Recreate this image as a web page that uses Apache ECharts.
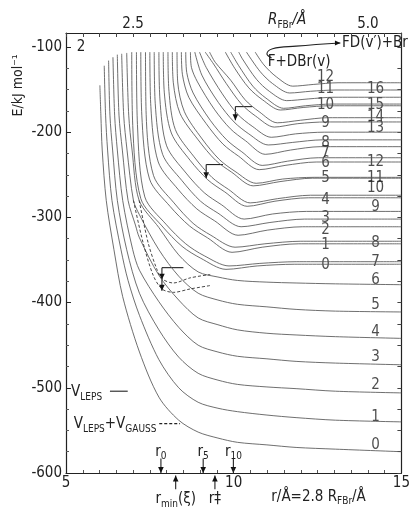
<!DOCTYPE html>
<html><head><meta charset="utf-8">
<script src="https://cdn.jsdelivr.net/npm/echarts@6/dist/echarts.min.js"></script>
<style>html,body{margin:0;padding:0;background:#fff}#c{width:413px;height:509px}</style>
</head><body><div id="c"></div>
<script>
// ---- adiabatic curves [r/Å, E/kJ mol-1] (V_LEPS) ----
const FD0 = [[6.01,-145],[6.04,-180],[6.08,-221],[6.20,-280],[6.43,-338],[6.69,-393],[7.19,-458],[7.77,-511],[8.36,-538],[8.94,-552],[9.53,-559],[10.11,-564],[10.99,-567],[11.86,-570],[13.03,-572],[15,-575]];
const FD1 = [[6.14,-122],[6.18,-180],[6.24,-221],[6.37,-280],[6.64,-338],[6.85,-374],[7.19,-415],[7.77,-467],[8.36,-500],[8.94,-517],[9.53,-524],[10.11,-528],[10.99,-532],[11.86,-535],[13.03,-538],[15,-540]];
const FD2 = [[6.27,-116],[6.31,-180],[6.39,-221],[6.53,-280],[6.81,-338],[7.19,-389],[7.77,-432],[8.36,-464],[8.94,-483],[9.53,-491],[10.11,-496],[10.99,-499],[11.86,-501],[13.03,-504],[15,-506]];
const FD3 = [[6.40,-112],[6.45,-180],[6.53,-221],[6.69,-280],[6.99,-338],[7.19,-362],[7.77,-399],[8.36,-429],[8.94,-450],[9.53,-458],[10.11,-463],[10.99,-466],[11.86,-469],[13.03,-471],[15,-473]];
const FD4 = [[6.53,-109],[6.58,-180],[6.68,-221],[6.85,-280],[7.07,-309],[7.19,-324],[7.77,-368],[8.36,-397],[8.94,-418],[9.53,-426],[10.11,-432],[10.99,-436],[11.86,-438],[13.03,-440],[15,-442]];
const FD5 = [[6.66,-108],[6.72,-180],[6.82,-221],[7.01,-280],[7.19,-297],[7.77,-338],[8.36,-369],[8.94,-389],[9.53,-397],[10.11,-402],[10.99,-405],[11.86,-408],[13.03,-410],[15,-411]];
const FD6 = [[6.81,-107],[6.87,-180],[6.97,-221],[7.18,-280],[7.77,-312],[8.36,-344],[8.94,-364],[9.53,-370],[10.11,-374],[10.99,-376],[11.86,-377],[13.03,-378],[15,-379]];
const FD7 = [[6.96,-106],[6.99,-192],[7.23,-278],[7.86,-310],[8.46,-334],[9.02,-348],[9.77,-361],[10.70,-357],[11.82,-355],[15,-355]];
const DBr0 = [[7.10,-106],[7.13,-191],[7.35,-276],[7.98,-308],[8.57,-331],[9.12,-345],[9.86,-357],[10.78,-354],[11.88,-352],[15,-352]];
const DBr1 = [[7.23,-106],[7.26,-180],[7.49,-255],[8.10,-287],[8.68,-310],[9.22,-324],[9.95,-341],[10.85,-335],[11.94,-331],[15,-331]];
const FD8 = [[7.37,-106],[7.39,-179],[7.61,-251],[8.22,-283],[8.79,-307],[9.32,-321],[10.04,-335],[10.93,-331],[12.00,-328],[15,-328]];
const DBr2 = [[7.50,-106],[7.53,-170],[7.75,-235],[8.34,-267],[8.90,-290],[9.43,-304],[10.13,-321],[11.00,-315],[12.05,-311],[15,-311]];
const FD9 = [[7.63,-106],[7.66,-166],[7.88,-226],[8.46,-257],[9.01,-281],[9.53,-295],[10.22,-311],[11.08,-306],[12.11,-302],[15,-302]];
const DBr3 = [[7.77,-106],[7.80,-161],[8.00,-216],[8.58,-248],[9.12,-271],[9.63,-285],[10.31,-302],[11.16,-296],[12.17,-293],[15,-293]];
const FD10 = [[7.90,-106],[7.93,-153],[8.14,-201],[8.70,-233],[9.23,-256],[9.73,-270],[10.40,-287],[11.23,-281],[12.23,-277],[15,-277]];
const DBr4 = [[8.04,-106],[8.07,-152],[8.26,-197],[8.82,-229],[9.35,-253],[9.84,-267],[10.49,-283],[11.31,-278],[12.29,-274],[15,-274]];
const DBr5 = [[8.17,-106],[8.20,-142],[8.40,-178],[8.94,-209],[9.46,-233],[9.94,-247],[10.58,-263],[11.38,-258],[12.35,-254],[15,-254]];
const FD11 = [[8.31,-106],[8.33,-141],[8.53,-176],[9.06,-208],[9.57,-232],[10.04,-246],[10.67,-260],[11.46,-255],[12.40,-253],[15,-253]];
const DBr6 = [[8.44,-106],[8.47,-132],[8.66,-159],[9.18,-190],[9.68,-214],[10.14,-228],[10.76,-244],[11.53,-239],[12.46,-235],[15,-235]];
const FD12 = [[8.57,-106],[8.60,-130],[8.79,-154],[9.30,-186],[9.79,-209],[10.24,-223],[10.85,-239],[11.61,-234],[12.52,-230],[15,-230]];
const DBr7 = [[8.71,-106],[8.74,-124],[8.92,-141],[9.42,-173],[9.90,-196],[10.35,-210],[10.94,-226],[11.69,-221],[12.58,-217],[15,-217]];
const FD13 = [[8.84,-106],[9.05,-133],[9.54,-165],[10.01,-188],[10.45,-202],[11.03,-215],[11.76,-212],[12.64,-209],[15,-209]];
const DBr8 = [[8.98,-106],[9.18,-124],[9.66,-155],[10.12,-179],[10.55,-193],[11.12,-206],[11.84,-202],[12.70,-200],[15,-200]];
const FD14 = [[9.15,-106],[9.40,-120],[9.78,-143],[10.23,-167],[10.65,-181],[11.21,-194],[11.91,-190],[12.76,-188],[15,-188]];
const DBr9 = [[9.28,-106],[9.45,-118],[9.91,-139],[10.34,-162],[10.76,-176],[11.30,-189],[11.99,-186],[12.81,-183],[15,-183]];
const FD15 = [[9.75,-106],[10.03,-125],[10.45,-148],[10.86,-162],[11.39,-174],[12.07,-171],[12.87,-169],[15,-169]];
const DBr10 = [[9.91,-106],[10.15,-122],[10.57,-146],[10.96,-160],[11.49,-172],[12.14,-169],[12.93,-167],[15,-167]];
const DBr11 = [[10.15,-106],[10.26,-114],[10.68,-138],[11.06,-152],[11.58,-163],[12.22,-161],[12.99,-159],[15,-159]];
const FD16 = [[10.38,-106],[10.79,-129],[11.16,-143],[11.67,-154],[12.29,-152],[13.05,-150.5],[15,-150.5]];
const DBr12 = [[10.64,-106],[10.90,-121],[11.27,-135],[11.76,-146],[12.37,-144],[13.11,-142],[15,-142]];
// ---- V_LEPS + V_GAUSS (dashed) ----
const dashA = [[7.01,-280],[7.30,-330],[7.60,-368],[7.86,-384],[8.20,-388],[8.70,-384],[9.30,-380]];
const dashB = [[7.18,-280],[7.45,-330],[7.70,-360],[7.86,-372],[8.20,-377],[8.70,-371],[9.30,-367]];

// ---- asymptote labels ----
const dbrLabels = ['0','1','2','3','4','5','6','7','8','9','10','11','12'];
const dbrLabelE = [-356,-332,-315,-301,-280,-254,-236,-224,-213,-189,-168,-150,-135];
const fdLabels = ['0','1','2','3','4','5','6','7','8','9','10','11','12','13','14','15','16'];
const fdLabelE = [-567,-534,-497,-464,-435,-403,-374,-352,-330,-288,-266,-254,-235,-195,-182,-168,-150];
const dbrLabelR = 12.74, fdLabelR = 14.23;

// ---- axes ----
const xTicks = [5, 10, 15];
const yTicks = [-600, -500, -400, -300, -200, -100];
const topTickValues = [2.5, 5.0];
const topTickLabels = ['2.5', '5.0'];
const topInsideLabel = {R: 2, text: '2'};

// ---- annotations (data units) ----
const brackets = [{r:7.86, E:-359, len:0.64, tips:[-373,-386]}, {r:9.18, E:-238, len:0.50, tips:[-254]}, {r:10.05, E:-170, len:0.50, tips:[-186]}];
const downMarks = [{r:7.83, sub:'0'}, {r:9.09, sub:'5'}, {r:9.99, sub:'10'}];
const upMarks = [{r:8.27, main:'r', sub:'min', tail:'(ξ)'}, {r:9.44, main:'r', sub:'', tail:'‡'}];

const curves = [FD0,FD1,FD2,FD3,FD4,FD5,FD6,FD7,DBr0,DBr1,FD8,DBr2,FD9,DBr3,FD10,DBr4,DBr5,FD11,DBr6,FD12,DBr7,FD13,DBr8,FD14,DBr9,FD15,DBr10,DBr11,FD16,DBr12];
const dashed = [dashA, dashB];

const FONT = '"DejaVu Sans Condensed","DejaVu Sans",sans-serif';
const INK = '#222';
const chart = echarts.init(document.getElementById('c'), null, {renderer:'canvas'});

const series = [];
curves.forEach(d => series.push({type:'line', data:d, showSymbol:false, smooth:0.3, silent:true, animation:false,
  lineStyle:{color:'#555', width:0.85}}));
dashed.forEach(d => series.push({type:'line', data:d, showSymbol:false, smooth:0.3, silent:true, animation:false,
  lineStyle:{color:'#333', width:0.9, type:[3,2]}}));
const labStyle = {show:true, position:'inside', color:INK, fontFamily:FONT, fontSize:15, formatter:p=>p.name};
series.push({type:'scatter', symbolSize:0, silent:true, animation:false, label:labStyle,
  data: dbrLabels.map((t,i)=>({name:t, value:[dbrLabelR, dbrLabelE[i]]}))});
series.push({type:'scatter', symbolSize:0, silent:true, animation:false, label:labStyle,
  data: fdLabels.map((t,i)=>({name:t, value:[fdLabelR, fdLabelE[i]]}))});

const rMin = 5/2.8, rMax = 15/2.8;
const topTicks = []; for (let r = 5; r <= 15.001; r += 0.5) topTicks.push(r/2.8);

const axisCommon = {axisLine:{lineStyle:{color:INK, width:1.2}}, splitLine:{show:false}};
chart.setOption({
  animation:false,
  backgroundColor:'#fff',
  grid:{left:66, right:5, top:33, bottom:36},
  xAxis:[
    Object.assign({type:'value', position:'bottom', min:5, max:15, interval:5,
      axisTick:{inside:true, length:5, lineStyle:{color:INK}},
      minorTick:{show:true, splitNumber:10, length:3, lineStyle:{color:'#555'}},
      axisLabel:{color:INK, fontFamily:FONT, fontSize:15, margin:3, formatter:v=> xTicks.includes(v)? String(v):''}}, axisCommon),
    Object.assign({type:'value', position:'top', min:rMin, max:rMax,
      axisTick:{inside:true, length:4, customValues:topTicks, lineStyle:{color:'#444'}},
      axisLabel:{color:INK, fontFamily:FONT, fontSize:15, margin:1, customValues:topTickValues,
        formatter:v=> topTickLabels[topTickValues.indexOf(v)] ?? ''}}, axisCommon)
  ],
  yAxis:[
    Object.assign({type:'value', position:'left', min:-600, max:-83.6, interval:100,
      axisTick:{inside:true, length:5, lineStyle:{color:INK}},
      minorTick:{show:true, splitNumber:4, length:3, lineStyle:{color:'#555'}},
      axisLabel:{color:INK, fontFamily:FONT, fontSize:15, margin:4, showMaxLabel:false,
        formatter:v=> yTicks.includes(v)? String(v):''}}, axisCommon),
    Object.assign({type:'value', position:'right', min:-600, max:-83.6, interval:25,
      axisTick:{inside:true, length:4, lineStyle:{color:'#444'}},
      axisLabel:{show:false}}, axisCommon)
  ],
  series: series
});

// ---- annotations placed from data coordinates ----
const P = (r,E) => chart.convertToPixel({xAxisIndex:0, yAxisIndex:0}, [r,E]);
const g = [];
const ln = (a,b,w,dash) => g.push({type:'line', silent:true, shape:{x1:a[0],y1:a[1],x2:b[0],y2:b[1]}, style:{stroke:INK, lineWidth:w||1.1, lineDash:dash||null}});
const head = (p,dir,s) => { s=s||4; let pts;
  if (dir==='down') pts=[[p[0]-s*0.8,p[1]-s*1.7],[p[0]+s*0.8,p[1]-s*1.7],[p[0],p[1]]];
  else if (dir==='up') pts=[[p[0]-s*0.8,p[1]+s*1.7],[p[0]+s*0.8,p[1]+s*1.7],[p[0],p[1]]];
  else pts=[[p[0]-s*1.7,p[1]-s*0.8],[p[0]-s*1.7,p[1]+s*0.8],[p[0],p[1]]];
  g.push({type:'polygon', silent:true, shape:{points:pts}, style:{fill:'#111'}}); };
const txt = (p,text,opt) => g.push({type:'text', silent:true, x:p[0], y:p[1], style:Object.assign({text:text, fill:INK, font:'15px '+FONT, align:'center', verticalAlign:'middle'}, opt||{})});
const RICH = {s:{fontSize:10, fontFamily:FONT, fill:INK, verticalAlign:'bottom', lineHeight:20}, n:{fontSize:15, fontFamily:FONT, fill:INK, lineHeight:20}};

brackets.forEach(b => {
  const p0 = P(b.r, b.E); ln(p0, P(b.r + b.len, b.E), 1.1);
  let prev = p0;
  b.tips.forEach(t => { const q = P(b.r, t); ln(prev, q, 1.1); head(q, 'down', 3.5); prev = q; });
});
downMarks.forEach(m => {
  const a = P(m.r, -583), b = P(m.r, -600);
  ln(a, b, 1.1); head(b, 'down', 3.5);
  txt(P(m.r, -575), '{n|r}{s|' + m.sub + '}', {rich:RICH});
});
upMarks.forEach(m => {
  const a = P(m.r, -619), b = P(m.r, -603);
  ln(a, b, 1.1); head(b, 'up', 3.5);
  txt(P(m.r, -631), '{n|' + m.main + '}{s|' + m.sub + '}{n|' + m.tail + '}', {rich:RICH});
});
// axis titles
txt(P(12.53, -628), '{n|r/Å=2.8 R}{s|FBr}{n|/Å}', {rich:RICH});
const topName = chart.convertToPixel({xAxisIndex:1, yAxisIndex:0}, [4.14, -100]);
txt([topName[0], 20], '{n|R}{s|FBr}{n|/Å}', {rich:{s:RICH.s, n:Object.assign({}, RICH.n, {fontStyle:'italic'})}});
const two = chart.convertToPixel({xAxisIndex:1, yAxisIndex:0}, [topInsideLabel.R, -100]);
txt([two[0]-5, two[1]], topInsideLabel.text);
const yName = P(5, -145);
g.push({type:'text', silent:true, x:18, y:yName[1], rotation:Math.PI/2, style:{text:'E/kJ mol⁻¹', fill:INK, font:'14px '+FONT, align:'center', verticalAlign:'middle'}});
// legend
txt(P(5.15, -505), '{n|V}{s|LEPS}', {rich:RICH, align:'left'});
ln(P(6.31, -504), P(6.84, -504), 1.1);
txt(P(5.23, -543), '{n|V}{s|LEPS}{n|+V}{s|GAUSS}', {rich:RICH, align:'left'});
ln(P(7.78, -542), P(8.40, -542), 1.1, [3,2]);
// reaction arrow
const arr = [[11.13,-113],[10.99,-108],[11.16,-102],[11.86,-99],[13.18,-95.3]].map(p => P(p[0], p[1]));
g.push({type:'polyline', silent:true, shape:{points:arr, smooth:0.4}, style:{stroke:INK, lineWidth:1.1, fill:null}});
head(arr[arr.length-1], 'right', 3.2);
txt(P(11.95, -118), 'F+DBr(v)', {align:'center'});
txt(P(13.23, -95.3), 'FD(v′)+Br', {align:'left'});
chart.setOption({graphic: g});
</script></body></html>
